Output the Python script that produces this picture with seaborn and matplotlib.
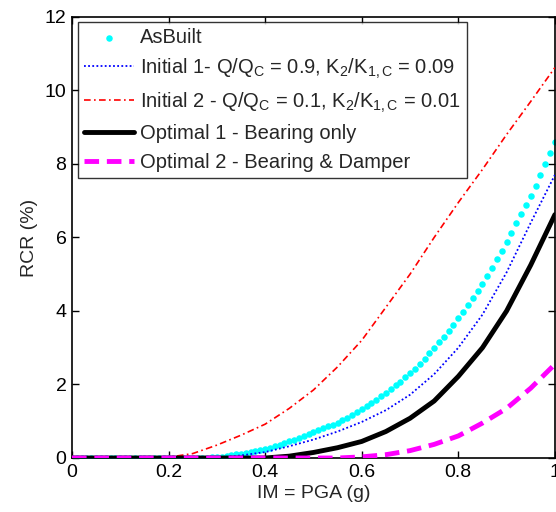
import matplotlib
matplotlib.use("Agg")
import matplotlib.pyplot as plt
import numpy as np
import pandas as pd
import seaborn as sns

# x grid for the line curves (step 0.05)
pga = [0.00, 0.05, 0.10, 0.15, 0.20, 0.25, 0.30, 0.35, 0.40, 0.45, 0.50,
       0.55, 0.60, 0.65, 0.70, 0.75, 0.80, 0.85, 0.90, 0.95, 1.00]

initial1 = [0.0, 0.0, 0.0, 0.0, 0.0, 0.0, 0.01, 0.07, 0.16, 0.32, 0.50,
            0.72, 0.98, 1.30, 1.72, 2.28, 3.00, 3.90, 5.05, 6.40, 7.70]
initial2 = [0.0, 0.0, 0.0, 0.0, 0.02, 0.12, 0.35, 0.62, 0.92, 1.35, 1.85,
            2.48, 3.20, 4.10, 5.00, 6.00, 6.95, 7.85, 8.80, 9.70, 10.62]
optimal1 = [0.0, 0.0, 0.0, 0.0, 0.0, 0.0, 0.0, 0.0, 0.0, 0.05, 0.15,
            0.28, 0.45, 0.72, 1.08, 1.55, 2.22, 3.00, 4.00, 5.25, 6.62]
optimal2 = [0.0, 0.0, 0.0, 0.0, 0.0, 0.0, 0.0, 0.0, 0.0, 0.0, 0.0,
            0.0, 0.03, 0.09, 0.20, 0.37, 0.60, 0.95, 1.35, 1.90, 2.55]

# AsBuilt dots (step 0.01)
asbuilt_x = [round(0.01 * i, 2) for i in range(101)]
asbuilt = [0.0] * 28 + [0.01, 0.02,
           0.03, 0.04, 0.06, 0.08, 0.10, 0.12, 0.14, 0.17, 0.19, 0.22,
           0.25, 0.28, 0.32, 0.36, 0.40, 0.45, 0.49, 0.54, 0.59, 0.65,
           0.71, 0.76, 0.81, 0.86, 0.90, 0.96, 1.02, 1.09, 1.16, 1.24,
           1.32, 1.41, 1.50, 1.59, 1.68, 1.78, 1.88, 1.98, 2.08, 2.19,
           2.30, 2.43, 2.56, 2.70, 2.85, 3.00, 3.15, 3.30, 3.46, 3.63,
           3.80, 3.98, 4.16, 4.35, 4.54, 4.74, 4.95, 5.17, 5.40, 5.63,
           5.88, 6.13, 6.38, 6.63, 6.88, 7.12, 7.40, 7.70, 8.00, 8.30,
           8.60]

labels = [
    "AsBuilt",
    r"Initial 1- Q/Q$_\mathregular{C}$ = 0.9, K$_\mathregular{2}$/K$_\mathregular{1,C}$ = 0.09",
    r"Initial 2 - Q/Q$_\mathregular{C}$ = 0.1, K$_\mathregular{2}$/K$_\mathregular{1,C}$ = 0.01",
    "Optimal 1 - Bearing only",
    "Optimal 2 - Bearing & Damper",
]

sns.set_theme(style="ticks")
plt.rcParams["font.family"] = ["Liberation Sans", "DejaVu Sans"]
plt.rcParams["mathtext.fontset"] = "custom"
plt.rcParams["mathtext.rm"] = "Liberation Sans"
plt.rcParams["mathtext.it"] = "Liberation Sans"

fig = plt.figure(figsize=(5.56, 5.12), dpi=100)
ax = fig.add_axes([0.1295, 0.1055, 0.8685, 0.8615])

sns.scatterplot(x=asbuilt_x, y=asbuilt, ax=ax, color="#00ffff", s=22,
                linewidth=0, label=labels[0], zorder=2)
sns.lineplot(x=pga, y=initial1, ax=ax, color="blue", linewidth=1.3,
             linestyle=(0, (1, 1.3)), label=labels[1], zorder=3)
sns.lineplot(x=pga, y=initial2, ax=ax, color="red", linewidth=1.2,
             linestyle=(0, (4, 2, 1, 2)), label=labels[2], zorder=3)
sns.lineplot(x=pga, y=optimal1, ax=ax, color="black", linewidth=3.5,
             label=labels[3], zorder=4)
sns.lineplot(x=pga, y=optimal2, ax=ax, color="magenta", linewidth=3.5,
             linestyle=(0, (3, 1.6)), label=labels[4], zorder=5)

ax.set_xlim(0, 1)
ax.set_ylim(0, 12)
ax.set_xticks([0, 0.2, 0.4, 0.6, 0.8, 1])
ax.set_xticklabels(["0", "0.2", "0.4", "0.6", "0.8", "1"])
ax.set_yticks([0, 2, 4, 6, 8, 10, 12])
ax.tick_params(direction="in", top=True, right=True, length=5, width=1,
               labelsize=14, pad=4, colors="black")
for side in ax.spines.values():
    side.set_linewidth(1.2)
    side.set_color("black")

ax.set_xlabel("IM = PGA (g)", fontsize=14, labelpad=3)
ax.set_ylabel("RCR (%)", fontsize=14, labelpad=5)

leg = ax.legend(loc="upper left", bbox_to_anchor=(0.012, 0.989), fontsize=14.5,
                frameon=True, fancybox=False, handlelength=2.5,
                handletextpad=0.3, borderpad=0.3, labelspacing=0.48,
                borderaxespad=0)
leg.get_frame().set_edgecolor("black")
leg.get_frame().set_linewidth(1.0)

fig.savefig("out.png", dpi=100)
